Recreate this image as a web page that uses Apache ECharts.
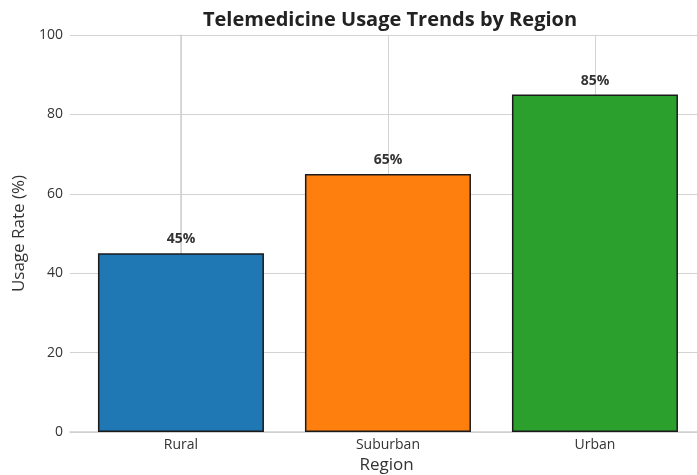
<!DOCTYPE html>
<html><head><meta charset="utf-8">
<script src="https://cdn.jsdelivr.net/npm/echarts@6/dist/echarts.min.js"></script>
<style>html,body{margin:0;padding:0;background:#fff}#c{width:697px;height:475px}</style>
</head><body><div id="c"></div>
<script>
const categories = ['Rural', 'Suburban', 'Urban'];
const usageRates = [45, 65, 85];
const barColors = ['#1f77b4', '#ff7f0e', '#2ca02c'];
const yTicks = [0, 20, 40, 60, 80, 100];

const font = '"Open Sans", "Noto Sans", sans-serif';
const chart = echarts.init(document.getElementById('c'), null, {renderer: 'canvas'});
chart.setOption({
  animation: false,
  backgroundColor: '#fff',
  title: {
    text: 'Telemedicine Usage Trends by Region',
    left: 385, top: 5, textAlign: 'center',
    textStyle: {fontFamily: font, fontSize: 20, fontWeight: 'bold', color: '#222'}
  },
  grid: {left: 70, right: -6, top: 35, bottom: 43, outerBoundsMode: 'none', containLabel: false, show: false},
  xAxis: {
    type: 'value', min: -0.536, max: 2.522,
    name: 'Region', nameLocation: 'middle', nameGap: 25,
    nameTextStyle: {fontFamily: font, fontSize: 17, color: '#333'},
    axisLine: {show: true, lineStyle: {color: '#d0d0d0', width: 1.5}},
    axisTick: {show: false, customValues: [0, 1, 2]},
    axisLabel: {customValues: [0, 1, 2], formatter: v => categories[Math.round(v)], fontFamily: font, fontSize: 14, color: '#333', margin: 6},
    splitLine: {show: true, lineStyle: {color: '#d3d3d3', width: 1}}
  },
  yAxis: {
    type: 'value', min: 0, max: 100, interval: 20,
    name: 'Usage Rate (%)', nameLocation: 'middle', nameGap: 39,
    nameTextStyle: {fontFamily: font, fontSize: 17, color: '#333'},
    axisLine: {show: true, lineStyle: {color: '#d0d0d0', width: 1.5}},
    axisTick: {show: false},
    axisLabel: {formatter: v => yTicks.includes(v) ? String(v) : '', fontFamily: font, fontSize: 14, color: '#333', margin: 7},
    splitLine: {show: true, lineStyle: {color: '#d3d3d3', width: 1.2}}
  },
  series: [{
    type: 'bar',
    barWidth: 166,
    data: usageRates.map((v, i) => ({value: [i, v], itemStyle: {color: barColors[i], borderColor: '#1a1a1a', borderWidth: 1.5}})),
    label: {show: true, position: 'top', distance: 7, formatter: p => p.value[1] + '%', fontFamily: font, fontSize: 14, fontWeight: 'bold', color: '#333'}
  }]
});
</script></body></html>
